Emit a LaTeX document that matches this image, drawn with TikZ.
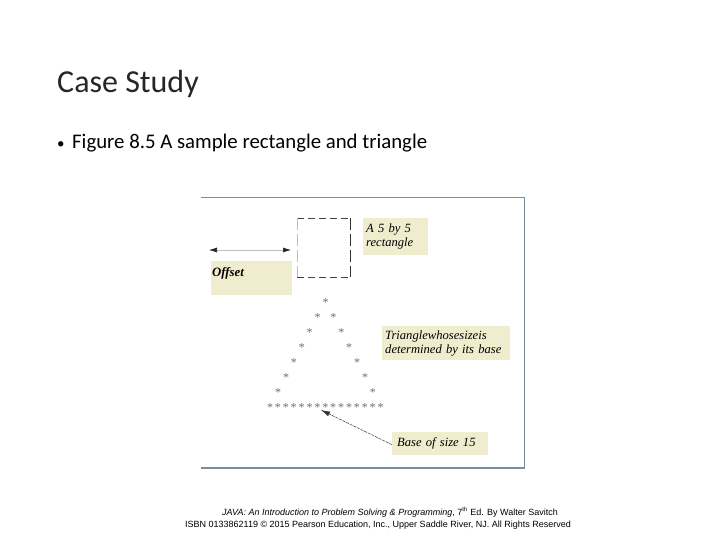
\documentclass[tikz,border=0pt]{standalone}
\usepackage{fontspec}
\setmainfont{Liberation Serif}
\newfontfamily\slidefont{Carlito}
\newfontfamily\footfont{Liberation Sans}
\usetikzlibrary{arrows.meta}
\definecolor{beige}{RGB}{240,236,206}
\definecolor{framec}{RGB}{122,142,153}
\definecolor{stargray}{RGB}{110,110,110}
\tikzset{
  lab/.style={fill=beige, inner sep=0pt, font=\fontsize{12.6}{14}\selectfont\itshape, align=left, anchor=north west},
  starnode/.style={inner sep=0pt, anchor=base, text=stargray, font=\fontsize{12}{12}\selectfont},
  sq/.style={line width=0.8pt, dash pattern=on 7pt off 4pt},
  foot/.style={anchor=base, inner sep=0pt, font=\footfont\fontsize{9}{10}\selectfont},
}
\begin{document}
\begin{tikzpicture}[x=1pt,y=-1pt]
\useasboundingbox (0,0) rectangle (720,540);
\fill[white] (0,0) rectangle (720,540);
% title
\node[anchor=base west, inner sep=0pt, font=\slidefont\fontsize{32}{32}\selectfont, text=black!85] (title) at (57,93) {Case Study};
\node[anchor=base west, inner sep=0pt, font=\slidefont\fontsize{15}{15}\selectfont] (dot) at (57,149) {\textbullet};
\node[anchor=base west, inner sep=0pt, font=\slidefont\fontsize{20.8}{20.8}\selectfont] (bullet) at (72,149) {Figure 8.5 A sample rectangle and triangle};
% frame
\coordinate (f1) at (201,197.5);
\coordinate (f2) at (524.5,197.5);
\coordinate (f3) at (524.5,468);
\coordinate (f4) at (201,468);
\draw[framec, line width=1.2pt] (f1) -- (f2) -- (f3) -- (f4);
% dashed square
\coordinate (s1) at (297,218);
\coordinate (s2) at (350,218);
\coordinate (s3) at (350,277);
\coordinate (s4) at (297,277);
\draw[sq, black!75] (s1) -- (s2);
\draw[sq, black!75] (s4) -- (s3);
\draw[sq, black!80, dash pattern=on 12pt off 4pt] (s2) -- (s3);
\draw[black!25, line width=0.6pt, dash pattern=on 12pt off 4pt] (s1) -- (s4);
% offset arrow and box
\coordinate (oL) at (209,250);
\coordinate (oR) at (291,250);
\draw[black!25, line width=0.6pt, {Latex[length=8pt,width=5pt,color=black!85]}-{Latex[length=8pt,width=5pt,color=black!85]}] (oL) -- (oR);
\fill[beige] (211,261) rectangle (292,295);
\node[anchor=base west, inner sep=0pt, font=\fontsize{12.8}{14}\selectfont\bfseries\itshape] (offset) at (212,276) {Offset};
% rectangle label
\node[lab, minimum width=65pt, minimum height=37pt, text width=59pt, inner xsep=3pt, inner ysep=3pt] (rectlab) at (363,218) {A 5 by 5\\rectangle};
% triangle label
\node[lab, minimum width=126pt, minimum height=34pt, text width=122pt, inner xsep=3pt, inner ysep=3pt] (trilab) at (382,326) {Trianglewhosesizeis\\determined by its base};
% base label
\node[lab, minimum width=91pt, minimum height=23pt, text width=86pt, inner xsep=5pt, inner ysep=4pt] (baselab) at (392,432) {Base of size 15};
% stars
\foreach \r in {0,...,6} {
  \pgfmathsetmacro{\yy}{299+15*\r+7}
  \pgfmathsetmacro{\xl}{325.5-7.9*\r}
  \pgfmathsetmacro{\xr}{325.5+7.9*\r}
  \node[starnode] (sl\r) at (\xl,\yy) {*};
  \ifnum\r>0 \node[starnode] (sr\r) at (\xr,\yy) {*}; \fi
}
\foreach \i in {0,...,14} {
  \pgfmathsetmacro{\xb}{270+7.9*\i}
  \node[starnode] (b\i) at (\xb,411) {*};
}
% base arrow
\coordinate (tip) at (321,410);
\draw[black!80, line width=0.5pt, dash pattern=on 3pt off 1pt, -{Latex[length=9pt,width=5pt]}] (baselab.west) ++(0,1) -- (tip);
% footer
\node[foot] (foot1) at (390,515) {\textit{JAVA: An Introduction to Problem Solving \& Programming}, 7\textsuperscript{th} Ed. By Walter Savitch};
\node[foot] (foot2) at (378,527) {ISBN 0133862119 \textcopyright\ 2015 Pearson Education, Inc., Upper Saddle River, NJ. All Rights Reserved};
\end{tikzpicture}
\end{document}
